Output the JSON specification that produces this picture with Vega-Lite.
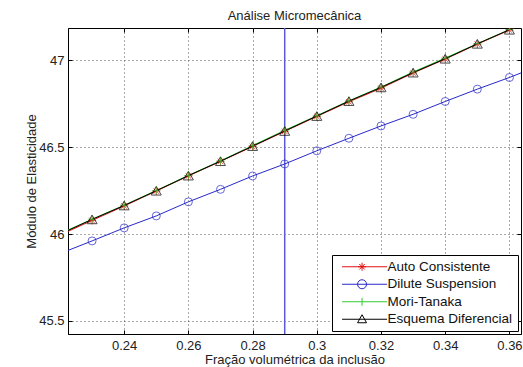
{
  "$schema": "https://vega.github.io/schema/vega-lite/v6.json",
  "width": 453,
  "height": 306,
  "autosize": {"type": "none"},
  "padding": {"left": 68, "top": 28, "right": 2, "bottom": 33},
  "background": "white",
  "title": {
    "text": "Análise Micromecânica",
    "fontSize": 13,
    "fontWeight": "normal",
    "font": "Liberation Sans",
    "color": "#222",
    "offset": -11
  },
  "config": {
    "font": "Liberation Sans",
    "view": {"stroke": "#000", "strokeWidth": 1},
    "axis": {
      "labelFont": "Liberation Sans",
      "labelFontSize": 13,
      "labelColor": "#222",
      "titleFont": "Liberation Sans",
      "titleFontSize": 13,
      "titleFontWeight": "normal",
      "titleColor": "#222",
      "domainColor": "#000",
      "tickColor": "#000",
      "gridColor": "#444",
      "gridDash": [1, 3],
      "gridOpacity": 0.9
    }
  },
  "datasets": {
    "curves": [
      {"x": 0.22, "y": 45.995, "serie": "Auto Consistente"},
      {"x": 0.23, "y": 46.079, "serie": "Auto Consistente"},
      {"x": 0.24, "y": 46.162, "serie": "Auto Consistente"},
      {"x": 0.25, "y": 46.248, "serie": "Auto Consistente"},
      {"x": 0.26, "y": 46.335, "serie": "Auto Consistente"},
      {"x": 0.27, "y": 46.419, "serie": "Auto Consistente"},
      {"x": 0.28, "y": 46.505, "serie": "Auto Consistente"},
      {"x": 0.29, "y": 46.592, "serie": "Auto Consistente"},
      {"x": 0.30, "y": 46.678, "serie": "Auto Consistente"},
      {"x": 0.31, "y": 46.762, "serie": "Auto Consistente"},
      {"x": 0.32, "y": 46.840, "serie": "Auto Consistente"},
      {"x": 0.33, "y": 46.928, "serie": "Auto Consistente"},
      {"x": 0.34, "y": 47.008, "serie": "Auto Consistente"},
      {"x": 0.35, "y": 47.094, "serie": "Auto Consistente"},
      {"x": 0.36, "y": 47.175, "serie": "Auto Consistente"},
      {"x": 0.37, "y": 47.258, "serie": "Auto Consistente"},
      {"x": 0.22, "y": 45.888, "serie": "Dilute Suspension"},
      {"x": 0.23, "y": 45.961, "serie": "Dilute Suspension"},
      {"x": 0.24, "y": 46.036, "serie": "Dilute Suspension"},
      {"x": 0.25, "y": 46.105, "serie": "Dilute Suspension"},
      {"x": 0.26, "y": 46.186, "serie": "Dilute Suspension"},
      {"x": 0.27, "y": 46.258, "serie": "Dilute Suspension"},
      {"x": 0.28, "y": 46.335, "serie": "Dilute Suspension"},
      {"x": 0.29, "y": 46.404, "serie": "Dilute Suspension"},
      {"x": 0.30, "y": 46.480, "serie": "Dilute Suspension"},
      {"x": 0.31, "y": 46.552, "serie": "Dilute Suspension"},
      {"x": 0.32, "y": 46.623, "serie": "Dilute Suspension"},
      {"x": 0.33, "y": 46.690, "serie": "Dilute Suspension"},
      {"x": 0.34, "y": 46.764, "serie": "Dilute Suspension"},
      {"x": 0.35, "y": 46.835, "serie": "Dilute Suspension"},
      {"x": 0.36, "y": 46.902, "serie": "Dilute Suspension"},
      {"x": 0.37, "y": 46.975, "serie": "Dilute Suspension"},
      {"x": 0.22, "y": 46.003, "serie": "Mori-Tanaka"},
      {"x": 0.23, "y": 46.086, "serie": "Mori-Tanaka"},
      {"x": 0.24, "y": 46.167, "serie": "Mori-Tanaka"},
      {"x": 0.25, "y": 46.251, "serie": "Mori-Tanaka"},
      {"x": 0.26, "y": 46.338, "serie": "Mori-Tanaka"},
      {"x": 0.27, "y": 46.422, "serie": "Mori-Tanaka"},
      {"x": 0.28, "y": 46.510, "serie": "Mori-Tanaka"},
      {"x": 0.29, "y": 46.598, "serie": "Mori-Tanaka"},
      {"x": 0.30, "y": 46.682, "serie": "Mori-Tanaka"},
      {"x": 0.31, "y": 46.768, "serie": "Mori-Tanaka"},
      {"x": 0.32, "y": 46.847, "serie": "Mori-Tanaka"},
      {"x": 0.33, "y": 46.934, "serie": "Mori-Tanaka"},
      {"x": 0.34, "y": 47.014, "serie": "Mori-Tanaka"},
      {"x": 0.35, "y": 47.097, "serie": "Mori-Tanaka"},
      {"x": 0.36, "y": 47.178, "serie": "Mori-Tanaka"},
      {"x": 0.37, "y": 47.261, "serie": "Mori-Tanaka"},
      {"x": 0.22, "y": 46.000, "serie": "Esquema Diferencial"},
      {"x": 0.23, "y": 46.085, "serie": "Esquema Diferencial"},
      {"x": 0.24, "y": 46.165, "serie": "Esquema Diferencial"},
      {"x": 0.25, "y": 46.250, "serie": "Esquema Diferencial"},
      {"x": 0.26, "y": 46.337, "serie": "Esquema Diferencial"},
      {"x": 0.27, "y": 46.420, "serie": "Esquema Diferencial"},
      {"x": 0.28, "y": 46.507, "serie": "Esquema Diferencial"},
      {"x": 0.29, "y": 46.594, "serie": "Esquema Diferencial"},
      {"x": 0.30, "y": 46.680, "serie": "Esquema Diferencial"},
      {"x": 0.31, "y": 46.766, "serie": "Esquema Diferencial"},
      {"x": 0.32, "y": 46.845, "serie": "Esquema Diferencial"},
      {"x": 0.33, "y": 46.930, "serie": "Esquema Diferencial"},
      {"x": 0.34, "y": 47.010, "serie": "Esquema Diferencial"},
      {"x": 0.35, "y": 47.096, "serie": "Esquema Diferencial"},
      {"x": 0.36, "y": 47.177, "serie": "Esquema Diferencial"},
      {"x": 0.37, "y": 47.260, "serie": "Esquema Diferencial"}
    ],
    "marker": [{"x": 0.29}]
  },
  "layer": [
    {
      "data": {"name": "marker"},
      "mark": {"type": "rule", "color": "#5a5ad6", "strokeWidth": 1.5},
      "encoding": {
        "x": {"field": "x", "type": "quantitative", "axis": null}
      }
    },
    {
      "data": {"name": "curves"},
      "mark": {"type": "line", "strokeWidth": 1, "clip": true},
      "encoding": {
        "x": {
          "field": "x",
          "type": "quantitative",
          "scale": {"domain": [0.2225, 0.3636], "zero": false, "nice": false},
          "axis": {
            "orient": "bottom",
            "title": "Fração volumétrica da inclusão",
            "values": [0.24, 0.26, 0.28, 0.3, 0.32, 0.34, 0.36],
            "format": "~g",
            "tickSize": -4,
            "labelPadding": 9,
            "titlePadding": 1,
            "grid": true
          }
        },
        "y": {
          "field": "y",
          "type": "quantitative",
          "scale": {"domain": [45.425, 47.187], "zero": false, "nice": false},
          "axis": {
            "orient": "left",
            "title": "Módulo de Elasticidade",
            "values": [45.5, 46, 46.5, 47],
            "format": "~g",
            "tickSize": -4,
            "labelPadding": 8,
            "titlePadding": 0,
            "grid": true
          }
        },
        "color": {
          "field": "serie",
          "type": "nominal",
          "sort": ["Auto Consistente", "Dilute Suspension", "Mori-Tanaka", "Esquema Diferencial"],
          "scale": {
            "domain": ["Auto Consistente", "Dilute Suspension", "Mori-Tanaka", "Esquema Diferencial"],
            "range": ["#e01010", "#2828c8", "#30cc30", "#000000"]
          },
          "legend": {
            "title": null,
            "orient": "none",
            "legendX": 264,
            "legendY": 227,
            "padding": 5,
            "fillColor": "white",
            "strokeColor": "#000",
            "cornerRadius": 0,
            "symbolType": "M-0.34,0L8.66,0",
            "symbolSize": 100,
            "symbolStrokeWidth": 1,
            "labelOffset": 37,
            "labelFont": "Liberation Sans",
            "labelFontSize": 13.5,
            "labelColor": "#111",
            "rowPadding": 2.5,
            "encode": {
              "symbols": {
                "update": {
                  "shape": {
                    "signal": "datum.value === 'Auto Consistente' ? 'M-0.34,0L8.66,0M2.86,0L4.46,0M3.66,-0.8L3.66,0.8M3.11,-0.55L4.21,0.55M3.11,0.55L4.21,-0.55' : datum.value === 'Dilute Suspension' ? 'M-0.34,0L8.66,0M2.76,0A0.9,0.9,0,1,0,4.56,0A0.9,0.9,0,1,0,2.76,0' : datum.value === 'Mori-Tanaka' ? 'M-0.34,0L8.66,0M3.66,-0.8L3.66,0.8' : 'M-0.34,0L8.66,0M2.76,0.7L4.56,0.7L3.66,-0.9Z'"
                  },
                  "fill": {"value": "transparent"}
                }
              }
            }
          }
        }
      }
    },
    {
      "data": {"name": "curves"},
      "transform": [{"filter": "datum.serie === 'Auto Consistente'"}],
      "mark": {"type": "point", "filled": false, "strokeWidth": 1, "clip": true, "color": "#e01010", "size": 64,
               "shape": "M-1,0L1,0M0,-1L0,1M-0.7,-0.7L0.7,0.7M-0.7,0.7L0.7,-0.7"},
      "encoding": {
        "x": {"field": "x", "type": "quantitative", "axis": null},
        "y": {"field": "y", "type": "quantitative", "axis": null}
      }
    },
    {
      "data": {"name": "curves"},
      "transform": [{"filter": "datum.serie === 'Dilute Suspension'"}],
      "mark": {"type": "point", "filled": false, "strokeWidth": 1, "clip": true, "color": "#2828c8", "size": 64, "shape": "circle"},
      "encoding": {
        "x": {"field": "x", "type": "quantitative", "axis": null},
        "y": {"field": "y", "type": "quantitative", "axis": null}
      }
    },
    {
      "data": {"name": "curves"},
      "transform": [{"filter": "datum.serie === 'Mori-Tanaka'"}],
      "mark": {"type": "point", "filled": false, "strokeWidth": 1, "clip": true, "color": "#30cc30", "size": 64, "shape": "M-1,0L1,0M0,-1L0,1"},
      "encoding": {
        "x": {"field": "x", "type": "quantitative", "axis": null},
        "y": {"field": "y", "type": "quantitative", "axis": null}
      }
    },
    {
      "data": {"name": "curves"},
      "transform": [{"filter": "datum.serie === 'Esquema Diferencial'"}],
      "mark": {"type": "point", "filled": false, "strokeWidth": 1, "clip": true, "color": "#000000", "size": 100, "shape": "triangle-up"},
      "encoding": {
        "x": {"field": "x", "type": "quantitative", "axis": null},
        "y": {"field": "y", "type": "quantitative", "axis": null}
      }
    },
    {
      "data": {"name": "curves"},
      "mark": {"type": "point", "opacity": 0},
      "encoding": {
        "x": {
          "field": "x",
          "type": "quantitative",
          "axis": {"orient": "top", "title": null, "labels": false, "grid": false, "domain": false, "tickSize": -4, "values": [0.24, 0.26, 0.28, 0.3, 0.32, 0.34, 0.36]}
        },
        "y": {
          "field": "y",
          "type": "quantitative",
          "axis": {"orient": "right", "title": null, "labels": false, "grid": false, "domain": false, "tickSize": -4, "values": [45.5, 46, 46.5, 47]}
        }
      }
    }
  ],
  "resolve": {"axis": {"x": "independent", "y": "independent"}}
}
